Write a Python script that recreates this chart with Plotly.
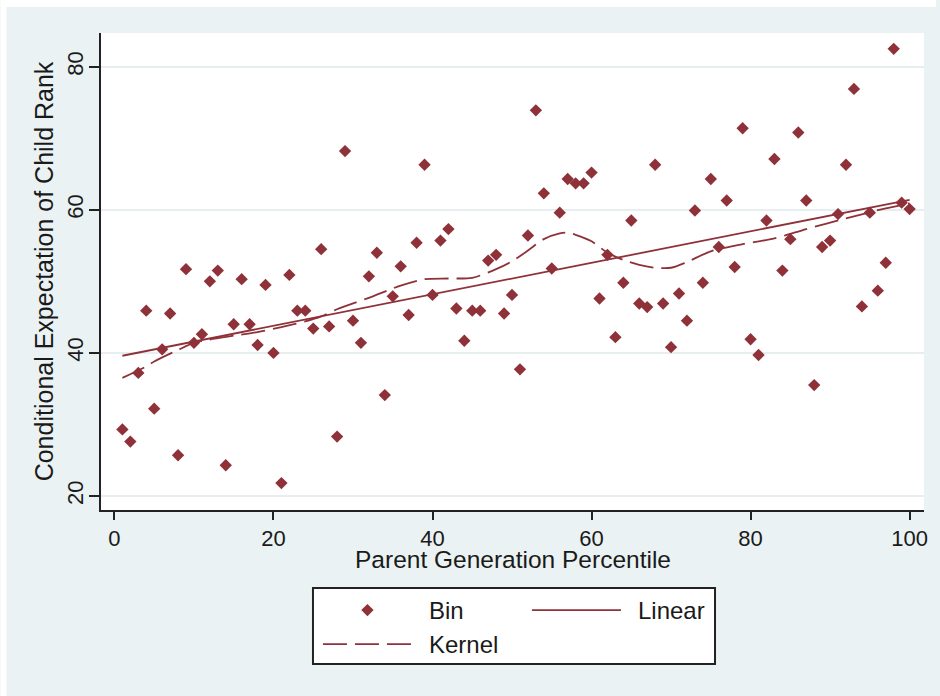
import plotly.graph_objects as go

# Parent percentile bins and the mean child rank in each bin
parent_pct = list(range(1, 101))
child_rank = [
    29.3, 27.6, 37.2, 45.9, 32.2, 40.5, 45.5, 25.7, 51.7, 41.4,
    42.6, 50.0, 51.5, 24.3, 44.0, 50.3, 44.0, 41.1, 49.5, 40.0,
    21.8, 50.9, 45.9, 45.9, 43.4, 54.5, 43.7, 28.3, 68.2, 44.5,
    41.4, 50.7, 54.0, 34.1, 47.9, 52.1, 45.3, 55.4, 66.3, 48.1,
    55.7, 57.3, 46.2, 41.7, 45.9, 45.9, 52.9, 53.7, 45.5, 48.1,
    37.7, 56.4, 73.9, 62.3, 51.8, 59.6, 64.3, 63.7, 63.7, 65.2,
    47.6, 53.7, 42.2, 49.8, 58.5, 46.9, 46.4, 66.3, 46.9, 40.8,
    48.3, 44.5, 59.9, 49.8, 64.3, 54.8, 61.3, 52.0, 71.4, 41.9,
    39.7, 58.5, 67.1, 51.5, 55.9, 70.8, 61.3, 35.5, 54.8, 55.7,
    59.4, 66.3, 76.9, 46.5, 59.6, 48.7, 52.6, 82.5, 61.0, 60.1,
]

# Linear fit (end points)
linear_x = [1, 100]
linear_y = [39.6, 61.4]

# Kernel-smoothed conditional expectation
kernel_x = [1, 4, 5, 8, 10, 15, 18, 21, 24, 26, 28, 32, 36, 39, 42, 45, 48,
            50, 52, 54, 56, 57, 58, 60, 62, 64, 66, 68, 70, 72, 75, 79, 83,
            87, 92, 97, 100]
kernel_y = [36.5, 38.1, 38.8, 40.4, 41.4, 42.4, 42.9, 43.6, 44.4, 45.1, 46.1,
            47.7, 49.4, 50.3, 50.4, 50.5, 51.7, 52.8, 54.3, 55.9, 56.7, 56.8,
            56.5, 55.6, 54.0, 53.0, 52.3, 51.9, 51.9, 52.7, 54.2, 55.2, 56.0,
            57.3, 58.8, 60.2, 60.9]

x_ticks = [0, 20, 40, 60, 80, 100]
y_ticks = [20, 40, 60, 80]

MAROON = "#8f3139"
BG = "#eaf2f3"
INK = "#1a1a1a"
FONT = "Liberation Sans, Arial, sans-serif"

W, H = 940, 696
L, R, T, B = 101, 12, 33, 186
PW, PH = W - L - R, H - T - B

# an en space gives the legend labels a little more room after the keys
GAP = "\u2002"


def px_x(p):
    return (p - L) / PW


def px_y(p):
    return (H - B - p) / PH


fig = go.Figure()

fig.add_trace(go.Scatter(
    x=parent_pct, y=child_rank, mode="markers", name=GAP + "Bin",
    marker=dict(symbol="diamond", size=9.5, color=MAROON, line=dict(width=0)),
    legend="legend",
))
fig.add_trace(go.Scatter(
    x=linear_x, y=linear_y, mode="lines", name=GAP + "Linear",
    line=dict(color=MAROON, width=1.8),
    legend="legend",
))
fig.add_trace(go.Scatter(
    x=kernel_x, y=kernel_y, mode="lines", name=GAP + "Kernel",
    line=dict(color=MAROON, width=1.8, dash="24px,8px", shape="spline", smoothing=0.8),
    legend="legend2",
))

legend_common = dict(
    orientation="h", xanchor="left", yanchor="top",
    bgcolor="rgba(0,0,0,0)", borderwidth=0,
    font=dict(family=FONT, size=24, color=INK),
    itemwidth=89, entrywidth=105, entrywidthmode="pixels",
    tracegroupgap=0,
)

fig.update_layout(
    width=W, height=H,
    margin=dict(l=L, r=R, t=T, b=B),
    paper_bgcolor=BG, plot_bgcolor="white",
    font=dict(family=FONT, color=INK),
    showlegend=True,
    legend=dict(x=px_x(319), y=px_y(588), **legend_common),
    legend2=dict(x=px_x(319), y=px_y(622), **legend_common),
    xaxis=dict(
        range=[-1.69, 101.81], tickvals=x_ticks, ticktext=[str(v) for v in x_ticks],
        showgrid=False, zeroline=False,
        showline=True, linecolor="#222222", linewidth=1.5, mirror=False,
        ticks="outside", ticklen=8, tickwidth=1.5, tickcolor="#222222",
        tickfont=dict(family=FONT, size=22, color=INK),
    ),
    yaxis=dict(
        range=[18.04, 84.71], tickvals=y_ticks, ticktext=[str(v) for v in y_ticks],
        showgrid=True, gridcolor="#e6eef0", gridwidth=1.5, zeroline=False,
        showline=True, linecolor="#222222", linewidth=1.5,
        ticks="outside", ticklen=10, tickwidth=1.5, tickcolor="#222222",
        tickangle=-90, ticklabelstandoff=-3,
        tickfont=dict(family=FONT, size=22, color=INK),
        title=dict(text="Conditional Expectation of Child Rank", standoff=3,
                   font=dict(family=FONT, size=25, color=INK)),
    ),
    annotations=[
        # x-axis title, set tight under the tick labels
        dict(text="Parent Generation Percentile", xref="paper", yref="paper",
             x=0.5, y=px_y(559), xanchor="center", yanchor="middle",
             showarrow=False, font=dict(family=FONT, size=24.5, color=INK)),
    ],
    shapes=[
        # legend frame
        dict(type="rect", xref="paper", yref="paper",
             x0=px_x(314), x1=px_x(718), y0=px_y(664), y1=px_y(588),
             line=dict(color="#222222", width=2), fillcolor="white", layer="below"),
        # thin white border along the top and left of the canvas
        dict(type="rect", xref="paper", yref="paper",
             x0=px_x(0), x1=px_x(W), y0=px_y(7), y1=px_y(0),
             line=dict(width=0), fillcolor="white", layer="below"),
        dict(type="rect", xref="paper", yref="paper",
             x0=px_x(0), x1=px_x(6), y0=px_y(H), y1=px_y(0),
             line=dict(width=0), fillcolor="white", layer="below"),
    ],
)

fig.write_html("out.html")
